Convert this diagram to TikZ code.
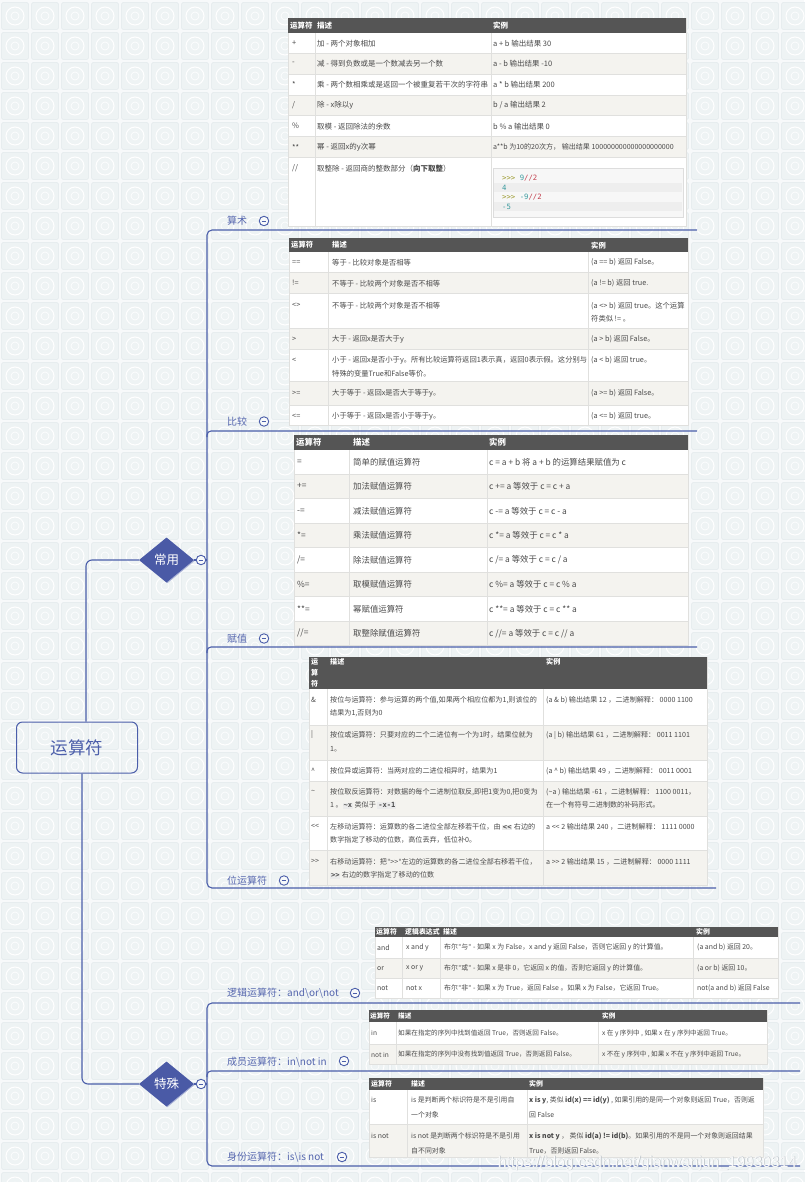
\documentclass[tikz,border=0pt]{standalone}
\usepackage{fontspec}
\setmainfont{Noto Sans CJK SC}
\setmonofont{DejaVu Sans Mono}
\newfontfamily\wmfont{Liberation Sans}
\usetikzlibrary{shapes.geometric}
\definecolor{bg}{HTML}{F7F9FA}
\definecolor{tilef}{HTML}{EEF3F4}
\definecolor{tiled}{HTML}{E2E9EC}
\definecolor{mblue}{HTML}{4B5EAA}
\definecolor{lblue}{HTML}{5566AE}
\definecolor{dblue}{HTML}{4A5AA6}
\definecolor{dshadow}{HTML}{A9B2D6}
\definecolor{gridc}{HTML}{E0E0DE}
\definecolor{hdrc}{HTML}{555555}
\definecolor{rowg}{HTML}{F4F3EF}
\definecolor{txt}{HTML}{4A4A4A}
\definecolor{codebg}{HTML}{F7F7F7}
\definecolor{codeline}{HTML}{DDDDDD}
\definecolor{codestripe}{HTML}{EEEEEE}
\definecolor{codebox}{HTML}{EBEBEB}
\definecolor{prm}{HTML}{9C9A2E}
\definecolor{num}{HTML}{3A9A9E}
\definecolor{opc}{HTML}{C2404E}
\definecolor{wmgray}{HTML}{B9C0C6}
\newcommand{\cd}[1]{{\setlength{\fboxsep}{0.8pt}\colorbox{codebox}{\ttfamily\bfseries #1}}}
\newcommand{\qq}{{\ttfamily\scalebox{0.8}[1]{"}}}
\begin{document}
\begin{tikzpicture}[x=1pt,y=-1pt,
  conn/.style={draw=mblue, line width=1.1pt},
  dia/.style={diamond, fill=dblue, text=white, minimum width=55pt, minimum height=45pt, inner sep=0pt, font=\fontsize{12.5}{14}\selectfont},
  diash/.style={diamond, fill=dshadow, minimum width=55pt, minimum height=45pt, inner sep=0pt},
  rootbox/.style={draw=mblue, line width=1pt, rounded corners=6pt, minimum width=121pt, minimum height=51pt, text=mblue, font=\fontsize{17.5}{20}\selectfont},
  lbl/.style={anchor=west, inner sep=0pt, text=lblue, font=\fontsize{10}{12}\selectfont},
  mc/.style={circle, draw=mblue, line width=0.9pt, fill=bg, minimum size=9.5pt, inner sep=0pt,
    path picture={\draw[mblue, line width=0.9pt] ([xshift=-2.4pt]path picture bounding box.center) -- ([xshift=2.4pt]path picture bounding box.center);}},
  grid/.style={draw=gridc, line width=0.6pt},
  cell/.style={anchor=west, inner sep=0pt, text=txt, align=left},
  hd/.style={cell, text=white, execute at begin node=\bfseries},
  code/.style={anchor=west, inner sep=0pt, font=\ttfamily\fontsize{7.3}{9}\selectfont}
]
\useasboundingbox (0,0) rectangle (804,1182);
% ---------- background tiles
\fill[bg] (0,0) rectangle (804,1182);
\foreach \i in {0,...,26}{\foreach \j in {0,...,40}{
  \filldraw[fill=tilef, draw=tiled, line width=0.5pt, rounded corners=1.5pt] (30*\i+1.5, 30*\j-27.5) rectangle (30*\i+28.5, 30*\j-0.5);
  \draw[white, line width=1pt] (30*\i+15, 30*\j-14) circle (9pt);
  \draw[white, line width=0.6pt] (30*\i+15, 30*\j-14) circle (4pt);
}}
% ---------- mind map nodes
\node[rootbox] (root) at (77,747.5) {运算符};
\node[diash] (cysh) at (167.3,560.8) {};
\node[dia] (cy) at (166.5,560) {常用};
\node[diash] (tssh) at (167.3,1084.8) {};
\node[dia] (ts) at (166.5,1084) {特殊};
\node[mc] (m0) at (201,560) {};
\node[mc] (m00) at (201,1084) {};
\coordinate (s1) at (207,230);
\coordinate (s2) at (207,431);
\coordinate (s3) at (207,647);
\coordinate (s4) at (207,888);
\coordinate (e1) at (697,230);
\coordinate (e2) at (697,431);
\coordinate (e3) at (697,647);
\coordinate (e4) at (716,888);
\coordinate (t1) at (207,1003);
\coordinate (t2) at (207,1071);
\coordinate (t3) at (207,1166);
\coordinate (f1) at (800,1003);
\coordinate (f2) at (800,1071);
\coordinate (f3) at (800,1166);
% ---------- connectors
\draw[conn, rounded corners=6pt] ([xshift=9pt]root.north) |- (cy.west);
\draw[conn, rounded corners=6pt] ([xshift=5pt]root.south) |- (ts.west);
\draw[conn] (cy.east) -- (m0.west);
\draw[conn] (ts.east) -- (m00.west);
\draw[conn] (m0.east) -- (m0.east -| s1);
\draw[conn] (m00.east) -- (m00.east -| t1);
\draw[conn, rounded corners=5pt] (e1) -- (s1) -- (s4) -- (e4);
\draw[conn, rounded corners=4pt] ([yshift=-6pt]s2) -- (s2) -- (e2);
\draw[conn, rounded corners=4pt] ([yshift=-6pt]s3) -- (s3) -- (e3);
\draw[conn, rounded corners=5pt] (f1) -- (t1) -- (t3) -- (f3);
\draw[conn, rounded corners=4pt] ([yshift=-6pt]t2) -- (t2) -- (f2);
% ---------- labels
\node[lbl] (l1) at (227,221) {算术};
\node[mc] (m1) at (264,221) {};
\node[lbl] (l2) at (227,421.5) {比较};
\node[mc] (m2) at (264,421.5) {};
\node[lbl] (l3) at (227,638.5) {赋值};
\node[mc] (m3) at (264,638.5) {};
\node[lbl] (l4) at (227,881) {位运算符};
\node[mc] (m4) at (284,880.5) {};
\node[lbl] (l5) at (227,993) {逻辑运算符：and\textbackslash or\textbackslash not};
\node[mc] (m5) at (355,993) {};
\node[lbl] (l6) at (227,1062) {成员运算符：in\textbackslash not in};
\node[mc] (m6) at (344,1061) {};
\node[lbl] (l7) at (227,1157.5) {身份运算符：is\textbackslash is not};
\node[mc] (m7) at (342,1157) {};

% ================= table 1 (算术)
\fill[white] (288,18) rectangle (686,226.7);
\fill[rowg] (288,53.3) rectangle (686,74.3);
\fill[rowg] (288,95) rectangle (686,115.7);
\fill[rowg] (288,136.7) rectangle (686,157.7);
\foreach \yy in {53.3,74.3,95,115.7,136.7,157.7} \draw[grid] (288,\yy) -- (686,\yy);
\foreach \xx in {315,491} \draw[grid] (\xx,33.3) -- (\xx,226.7);
\draw[grid] (288,18) rectangle (686,226.7);
\fill[hdrc] (288,18) rectangle (686,33.3);
\begin{scope}[nodes={font=\fontsize{7.5}{13.5}\selectfont}]
\node[hd] (a0) at (290,25.6) {运算符};
\node[hd] (a1) at (317,25.6) {描述};
\node[hd] (a2) at (493,25.6) {实例};
\node[cell] at (292,43.3) {+};
\node[cell] at (317,43.3) {加 - 两个对象相加};
\node[cell] at (493,43.3) {a + b 输出结果 30};
\node[cell] at (292,63.8) {-};
\node[cell] at (317,63.8) {减 - 得到负数或是一个数减去另一个数};
\node[cell] at (493,63.8) {a - b 输出结果 -10};
\node[cell] at (292,84.7) {*};
\node[cell] at (317,84.7) {乘 - 两个数相乘或是返回一个被重复若干次的字符串};
\node[cell] at (493,84.7) {a * b 输出结果 200};
\node[cell] at (292,105.3) {/};
\node[cell] at (317,105.3) {除 - x除以y};
\node[cell] at (493,105.3) {b / a 输出结果 2};
\node[cell] at (292,126.2) {\%};
\node[cell] at (317,126.2) {取模 - 返回除法的余数};
\node[cell] at (493,126.2) {b \% a 输出结果 0};
\node[cell] at (292,147.2) {**};
\node[cell] at (317,147.2) {幂 - 返回x的y次幂};
\node[cell, font=\fontsize{7.05}{13.5}\selectfont] at (493,147.2) {a**b 为10的20次方， 输出结果 100000000000000000000};
\node[cell] at (292,168.3) {//};
\node[cell] at (317,168.3) {取整除 - 返回商的整数部分（{\bfseries 向下取整}）};
\end{scope}
\filldraw[fill=codebg, draw=codeline, line width=0.6pt] (493,168) rectangle (683,217);
\fill[codestripe] (494,183.3) rectangle (682,192.3);
\fill[codestripe] (494,202) rectangle (682,211.5);
\node[code] (k1) at (502,178) {\textcolor{prm}{>{}>{}>} \textcolor{num}{9}\textcolor{opc}{//2}};
\node[code] (k2) at (502,187.7) {\textcolor{num}{4}};
\node[code] (k3) at (502,197.3) {\textcolor{prm}{>{}>{}>} \textcolor{num}{-9}\textcolor{opc}{//2}};
\node[code] (k4) at (502,207) {\textcolor{num}{-5}};

% ================= table 2 (比较)
\fill[white] (289,238) rectangle (688,425.7);
\fill[rowg] (289,272.3) rectangle (688,293.3);
\fill[rowg] (289,328.3) rectangle (688,349.3);
\fill[rowg] (289,381.7) rectangle (688,405);
\foreach \yy in {272.3,293.3,328.3,349.3,381.7,405} \draw[grid] (289,\yy) -- (688,\yy);
\foreach \xx in {328,588} \draw[grid] (\xx,252.3) -- (\xx,425.7);
\draw[grid] (289,238) rectangle (688,425.7);
\fill[hdrc] (289,238) rectangle (688,252.3);
\begin{scope}[nodes={font=\fontsize{7.3}{13.4}\selectfont}]
\node[hd] (b0) at (291,245.2) {运算符};
\node[hd] (b1) at (332,245.2) {描述};
\node[hd] (b2) at (591,245.2) {实例};
\node[cell] at (292,262.7) {==};
\node[cell] at (332,262.7) {等于 - 比较对象是否相等};
\node[cell] at (591,262.7) {(a == b) 返回 False。};
\node[cell] at (292,283.3) {!=};
\node[cell] at (332,283.3) {不等于 - 比较两个对象是否不相等};
\node[cell] at (591,283.3) {(a != b) 返回 true.};
\node[cell] at (292,305.7) {<>};
\node[cell] at (332,305.7) {不等于 - 比较两个对象是否不相等};
\node[cell] at (591,312.4) {(a <> b) 返回 true。这个运算\\符类似 != 。};
\node[cell] at (292,339.3) {>};
\node[cell] at (332,339.3) {大于 - 返回x是否大于y};
\node[cell] at (591,339.3) {(a > b) 返回 False。};
\node[cell] at (292,360) {<};
\node[cell] at (332,366.7) {小于 - 返回x是否小于y。所有比较运算符返回1表示真，返回0表示假。这分别与\\特殊的变量True和False等价。};
\node[cell] at (591,360) {(a < b) 返回 true。};
\node[cell] at (292,393.3) {>=};
\node[cell] at (332,393.3) {大于等于 - 返回x是否大于等于y。};
\node[cell] at (591,393.3) {(a >= b) 返回 False。};
\node[cell] at (292,416) {<=};
\node[cell] at (332,416) {小于等于 - 返回x是否小于等于y。};
\node[cell] at (591,416) {(a <= b) 返回 true。};
\end{scope}

% ================= table 3 (赋值)
\fill[white] (294,435) rectangle (688,645);
\foreach \ya/\yb in {474.3/498.3,523.3/547.7,572.3/596.7,621.7/645} \fill[rowg] (294,\ya) rectangle (688,\yb);
\foreach \yy in {474.3,498.3,523.3,547.7,572.3,596.7,621.7} \draw[grid] (294,\yy) -- (688,\yy);
\foreach \xx in {349,487} \draw[grid] (\xx,450) -- (\xx,645);
\draw[grid] (294,435) rectangle (688,645);
\fill[hdrc] (294,435) rectangle (688,450);
\begin{scope}[nodes={font=\fontsize{8.4}{12}\selectfont}]
\node[hd] (c0) at (296,442.5) {运算符};
\node[hd] (c1) at (353,442.5) {描述};
\node[hd] (c2) at (489,442.5) {实例};
\node[cell] at (297,462.2) {=};
\node[cell] at (353,462.2) {简单的赋值运算符};
\node[cell] at (489,462.2) {c = a + b 将 a + b 的运算结果赋值为 c};
\node[cell] at (297,486.3) {+=};
\node[cell] at (353,486.3) {加法赋值运算符};
\node[cell] at (489,486.3) {c += a 等效于 c = c + a};
\node[cell] at (297,510.8) {-=};
\node[cell] at (353,510.8) {减法赋值运算符};
\node[cell] at (489,510.8) {c -= a 等效于 c = c - a};
\node[cell] at (297,535.5) {*=};
\node[cell] at (353,535.5) {乘法赋值运算符};
\node[cell] at (489,535.5) {c *= a 等效于 c = c * a};
\node[cell] at (297,560) {/=};
\node[cell] at (353,560) {除法赋值运算符};
\node[cell] at (489,560) {c /= a 等效于 c = c / a};
\node[cell] at (297,584.5) {\%=};
\node[cell] at (353,584.5) {取模赋值运算符};
\node[cell] at (489,584.5) {c \%= a 等效于 c = c \% a};
\node[cell] at (297,609.2) {**=};
\node[cell] at (353,609.2) {幂赋值运算符};
\node[cell] at (489,609.2) {c **= a 等效于 c = c ** a};
\node[cell] at (297,633.4) {//=};
\node[cell] at (353,633.4) {取整除赋值运算符};
\node[cell] at (489,633.4) {c //= a 等效于 c = c // a};
\end{scope}

% ================= table 4 (位运算符)
\fill[white] (309,657) rectangle (707,885);
\foreach \ya/\yb in {725/760,781.7/816.7,850/885} \fill[rowg] (309,\ya) rectangle (707,\yb);
\foreach \yy in {725,760,781.7,816.7,850} \draw[grid] (309,\yy) -- (707,\yy);
\foreach \xx in {327,543} \draw[grid] (\xx,689) -- (\xx,885);
\draw[grid] (309,657) rectangle (707,885);
\fill[hdrc] (309,657) rectangle (707,689);
\begin{scope}[nodes={font=\fontsize{7.1}{13.5}\selectfont}]
\node[hd, font=\fontsize{7.1}{11}\selectfont] (d0) at (311,673) {运\\算\\符};
\node[hd] (d1) at (330,662) {描述};
\node[hd] (d2) at (546,662) {实例};
\node[cell] at (311,700) {\&};
\node[cell] at (330,706.75) {按位与运算符：参与运算的两个值,如果两个相应位都为1,则该位的\\结果为1,否则为0};
\node[cell] at (546,700) {(a \& b) 输出结果 12 ，二进制解释： 0000 1100};
\node[cell] at (311,735) {|};
\node[cell] at (330,741.75) {按位或运算符：只要对应的二个二进位有一个为1时，结果位就为\\1。};
\node[cell] at (546,735) {(a | b) 输出结果 61 ，二进制解释： 0011 1101};
\node[cell] at (311,770.8) {\textasciicircum};
\node[cell] at (330,770.8) {按位异或运算符：当两对应的二进位相异时，结果为1};
\node[cell] at (546,770.8) {(a \textasciicircum{} b) 输出结果 49 ，二进制解释： 0011 0001};
\node[cell] at (311,791.7) {\textasciitilde};
\node[cell] at (330,798.5) {按位取反运算符：对数据的每个二进制位取反,即把1变为0,把0变为\\1 。\cd{\textasciitilde x} 类似于 \cd{-x-1}};
\node[cell] at (546,798.5) {(\textasciitilde a ) 输出结果 -61 ，二进制解释： 1100 0011，\\在一个有符号二进制数的补码形式。};
\node[cell] at (311,826.7) {<{}<};
\node[cell] at (330,833.5) {左移动运算符：运算数的各二进位全部左移若干位，由 \cd{<{}<} 右边的\\数字指定了移动的位数，高位丢弃，低位补0。};
\node[cell] at (546,826.7) {a <{}< 2 输出结果 240 ，二进制解释： 1111 0000};
\node[cell] at (311,861.7) {>{}>};
\node[cell] at (330,868.5) {右移动运算符：把\qq>{}>\qq 左边的运算数的各二进位全部右移若干位，\\\cd{>{}>} 右边的数字指定了移动的位数};
\node[cell] at (546,861.7) {a >{}> 2 输出结果 15 ，二进制解释： 0000 1111};
\end{scope}

% ================= table 5 (逻辑)
\fill[white] (375,927) rectangle (778,998.3);
\fill[rowg] (375,958.3) rectangle (778,978.3);
\foreach \yy in {958.3,978.3} \draw[grid] (375,\yy) -- (778,\yy);
\foreach \xx in {402,440,693} \draw[grid] (\xx,937) -- (\xx,998.3);
\draw[grid] (375,927) rectangle (778,998.3);
\fill[hdrc] (375,927) rectangle (778,937);
\begin{scope}[nodes={font=\fontsize{6.9}{12}\selectfont}]
\node[hd] (g0) at (376,932) {运算符};
\node[hd] (g1) at (405,932) {逻辑表达式};
\node[hd] (g2) at (443,932) {描述};
\node[hd] (g3) at (696,932) {实例};
\node[cell] at (377,947.5) {and};
\node[cell] at (406,947.5) {x and y};
\node[cell] at (444,947.5) {布尔\qq 与\qq\ - 如果 x 为 False，x and y 返回 False，否则它返回 y 的计算值。};
\node[cell] at (697,947.5) {(a and b) 返回 20。};
\node[cell] at (377,968.3) {or};
\node[cell] at (406,968.3) {x or y};
\node[cell] at (444,968.3) {布尔\qq 或\qq\ - 如果 x 是非 0，它返回 x 的值，否则它返回 y 的计算值。};
\node[cell] at (697,968.3) {(a or b) 返回 10。};
\node[cell] at (377,988.3) {not};
\node[cell] at (406,988.3) {not x};
\node[cell] at (444,988.3) {布尔\qq 非\qq\ - 如果 x 为 True，返回 False 。如果 x 为 False，它返回 True。};
\node[cell] at (697,988.3) {not(a and b) 返回 False};
\end{scope}

% ================= table 6 (成员)
\fill[white] (369,1010) rectangle (767,1064);
\fill[rowg] (369,1044.3) rectangle (767,1064);
\draw[grid] (369,1044.3) -- (767,1044.3);
\foreach \xx in {396,598} \draw[grid] (\xx,1022) -- (\xx,1064);
\draw[grid] (369,1010) rectangle (767,1064);
\fill[hdrc] (369,1010) rectangle (767,1022);
\begin{scope}[nodes={font=\fontsize{6.6}{12}\selectfont}]
\node[hd] (h0) at (370,1016) {运算符};
\node[hd] (h1) at (398,1016) {描述};
\node[hd] (h2) at (602,1016) {实例};
\node[cell] at (371,1033) {in};
\node[cell] at (398,1033) {如果在指定的序列中找到值返回 True，否则返回 False。};
\node[cell] at (602,1033) {x 在 y 序列中 , 如果 x 在 y 序列中返回 True。};
\node[cell] at (371,1054.5) {not in};
\node[cell] at (398,1054.5) {如果在指定的序列中没有找到值返回 True，否则返回 False。};
\node[cell] at (602,1054.5) {x 不在 y 序列中 , 如果 x 不在 y 序列中返回 True。};
\end{scope}

% ================= table 7 (身份)
\fill[white] (369,1078) rectangle (763,1157);
\fill[rowg] (369,1124) rectangle (763,1157);
\draw[grid] (369,1124) -- (763,1124);
\foreach \xx in {407,527} \draw[grid] (\xx,1090) -- (\xx,1157);
\draw[grid] (369,1078) rectangle (763,1157);
\fill[hdrc] (369,1078) rectangle (763,1090);
\begin{scope}[nodes={font=\fontsize{6.9}{15}\selectfont}]
\node[hd] (i0) at (371,1084) {运算符};
\node[hd] (i1) at (411,1084) {描述};
\node[hd] (i2) at (529,1084) {实例};
\node[cell] at (371,1100) {is};
\node[cell] at (411,1107.5) {is 是判断两个标识符是不是引用自\\一个对象};
\node[cell] at (529,1107.5) {{\bfseries x is y}, 类似 {\bfseries id(x) == id(y)} , 如果引用的是同一个对象则返回 True，否则返\\回 False};
\node[cell] at (371,1136) {is not};
\node[cell] at (411,1143.5) {is not 是判断两个标识符是不是引用\\自不同对象};
\node[cell] at (529,1143.5) {{\bfseries x is not y} ， 类似 {\bfseries id(a) != id(b)}。如果引用的不是同一个对象则返回结果\\True，否则返回 False。};
\end{scope}

% ---------- watermark
\node[anchor=east, inner sep=0pt, text=wmgray, font=\wmfont\fontsize{15.5}{17}\selectfont] (wm1) at (797.6,1163.6) {https://blog.csdn.net/qianwanjun\_19930314};
\node[anchor=east, inner sep=0pt, text=white, opacity=0.9, font=\wmfont\fontsize{15.5}{17}\selectfont] (wm2) at (797,1163) {https://blog.csdn.net/qianwanjun\_19930314};
\end{tikzpicture}
\end{document}
